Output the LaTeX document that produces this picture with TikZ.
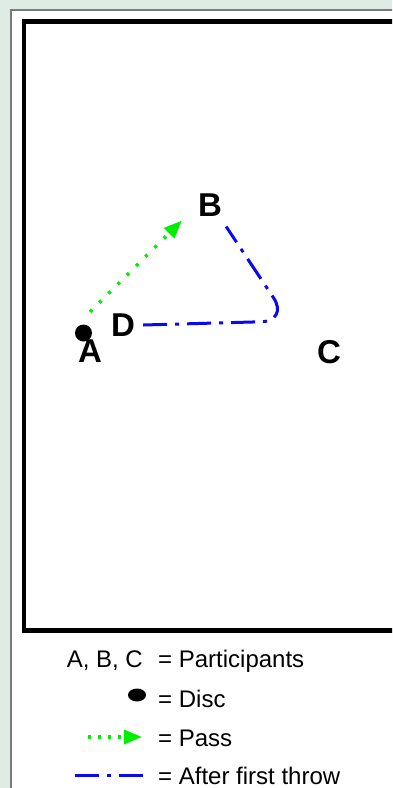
\documentclass[tikz,border=0pt]{standalone}
\usepackage{fontspec}
\setsansfont{Liberation Sans}
\definecolor{fieldBg}{HTML}{DFEBE5}
\definecolor{panelGrey}{HTML}{7A7A7A}
\definecolor{passGreen}{HTML}{00EE00}
\definecolor{throwBlue}{HTML}{0A0AF0}
\usetikzlibrary{arrows.meta,positioning,shapes.geometric,calc}
\tikzset{
  every picture/.append style={font=\sffamily},
  player/.style={inner sep=0pt,font=\sffamily\bfseries\fontsize{33}{38}\selectfont},
  disc/.style={circle,fill=black,inner sep=0pt,minimum size=17pt},
  legdisc/.style={ellipse,fill=black,inner sep=0pt,minimum width=18pt,minimum height=13pt},
  legtext/.style={inner sep=0pt,font=\sffamily\fontsize{24}{28}\selectfont},
  passarrow/.style={-{Triangle[length=18pt,width=14pt]},draw=passGreen,line width=3.5pt,dash pattern=on 3pt off 10pt},
  throwline/.style={draw=throwBlue,line width=3pt,dash pattern=on 24pt off 8pt on 4pt off 8pt},
}

\begin{document}
\begin{tikzpicture}[x=1pt,y=-1pt]
  \useasboundingbox (0,0) rectangle (392,788);
  \clip (0,0) rectangle (392,788);
  \fill[fieldBg] (0,0) rectangle (392,788);
  \draw[panelGrey, line width=1.5pt, fill=white] (11,10) rectangle (400,800);
  \draw[line width=4.5pt] (24,21.5) rectangle (410,630.5);

  % players and disc
  \node[disc] (disc) at (83.5,333) {};
  \node[player] (A) at (90,351) {A};
  \node[player] (B) at (210,205) {B};
  \node[player] (C) at (329,352) {C};
  \node[player] (D) at (123,325) {D};

  \draw[passarrow] ([shift={(6.5,-12.5)}]disc.north) -- ([shift={(-16,4)}]B.south west);

  \coordinate (bend) at (289,321);
  \draw[throwline, rounded corners=28pt] ([xshift=8pt]D.east) -- (bend) -- ([shift={(4,10)}]B.south east);

  % legend
  \node[legtext, anchor=base west] (partText) at (158,667) {= Participants};
  \node[legtext, anchor=base east] (partKey) at ([shift={(-15,0)}]partText.base west) {A, B, C};

  \node[legtext, anchor=base west] (discText) at (158,707) {= Disc};
  \node[legdisc] (discKey) at ([shift={(-21,-12)}]discText.base west) {};

  \node[legtext, anchor=base west] (passText) at (158,746) {= Pass};
  \coordinate (passFrom) at ([shift={(-70,-9)}]passText.base west);
  \coordinate (passTo) at ([shift={(-16,-9)}]passText.base west);
  \draw[passarrow, dash pattern=on 3pt off 7pt] (passFrom) -- (passTo);

  \node[legtext, anchor=base west] (throwText) at (158,784) {= After first throw};
  \coordinate (throwFrom) at ([shift={(-83,-9)}]throwText.base west);
  \coordinate (throwTo) at ([shift={(-14,-9)}]throwText.base west);
  \draw[throwline] (throwFrom) -- (throwTo);
\end{tikzpicture}
\end{document}
